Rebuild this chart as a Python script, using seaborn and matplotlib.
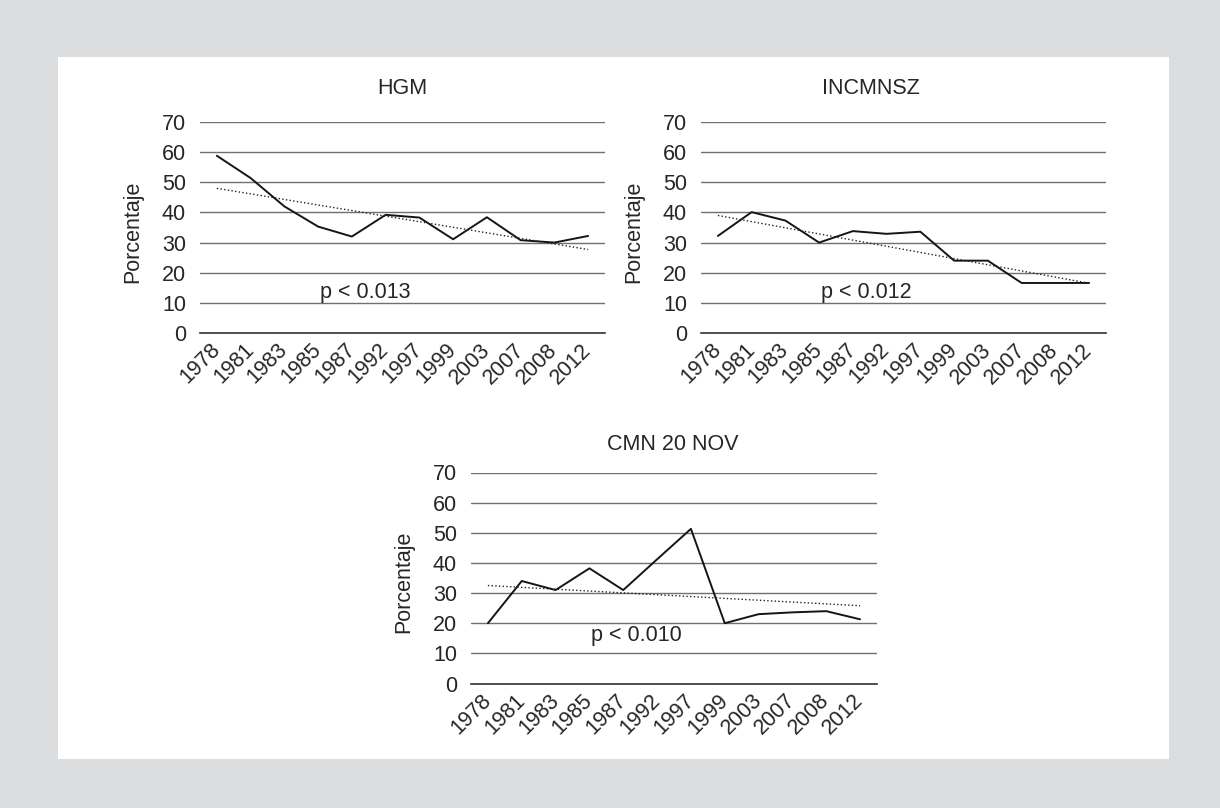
import numpy as np
import pandas as pd
import matplotlib
matplotlib.use('Agg')
import matplotlib.pyplot as plt
import seaborn as sns

# data
years = ['1978', '1981', '1983', '1985', '1987', '1992', '1997', '1999', '2003', '2007', '2008', '2012']
hgm = [58.8, 51.4, 42.0, 35.3, 32.0, 39.2, 38.3, 31.1, 38.4, 30.8, 30.0, 32.2]
incmnsz = [32.2, 40.1, 37.3, 30.0, 33.8, 32.9, 33.6, 24.0, 24.0, 16.6, 16.6, 16.6]
cmn = [20.0, 34.0, 31.0, 38.2, 31.0, 41.2, 51.3, 20.0, 23.0, 23.6, 24.0, 21.3]

# dotted trend lines: value at first and last year
trend_hgm = [48.0, 27.7]
trend_incmnsz = [39.0, 16.5]
trend_cmn = [32.5, 25.8]

titles = ['HGM', 'INCMNSZ', 'CMN 20 NOV']
p_labels = ['p < 0.013', 'p < 0.012', 'p < 0.010']

sns.set_style('white')
plt.rcParams['font.family'] = ['Liberation Sans', 'DejaVu Sans']

fig = plt.figure(figsize=(12.2, 8.08), dpi=100)
fig.patch.set_facecolor('#dcdddf')
# white panel behind the three charts
fig.patches.append(plt.Rectangle((58 / 1220, 1 - 759 / 808), (1169 - 58) / 1220, (759 - 57) / 808,
                                 transform=fig.transFigure, facecolor='white', edgecolor='none', zorder=-5))

axes_pos = [
    [200 / 1220, 1 - 333 / 808, 405 / 1220, 211 / 808],
    [701 / 1220, 1 - 333 / 808, 405 / 1220, 211 / 808],
    [471 / 1220, 1 - 683.5 / 808, 406 / 1220, 211 / 808],
]
series = [hgm, incmnsz, cmn]
trends = [trend_hgm, trend_incmnsz, trend_cmn]
title_x = [0.5, 0.42, 0.4975]
title_y = [1.157, 1.157, 1.135]
p_y = [13.5, 13.5, 16.0]

for i in range(3):
    ax = fig.add_axes(axes_pos[i])
    ax.set_facecolor('none')
    pos = np.arange(len(years))
    df = pd.DataFrame({'pos': pos, 'value': series[i]})
    sns.lineplot(x='pos', y='value', data=df, ax=ax, color='#151515', linewidth=1.4, zorder=3)
    tdf = pd.DataFrame({'pos': [pos[0], pos[-1]], 'value': trends[i]})
    sns.lineplot(x='pos', y='value', data=tdf, ax=ax, color='#222222', linewidth=1.0,
                 linestyle=':', zorder=3)

    ax.set_xlim(-0.5, len(years) - 0.5)
    ax.set_ylim(0, 70)
    ax.set_yticks(range(0, 71, 10))
    ax.yaxis.grid(True, color='#707070', linewidth=1.0)
    ax.set_axisbelow(True)

    # tick marks between categories, labels at category centres
    ax.set_xticks(np.arange(-0.5, len(years), 1.0))
    ax.set_xticklabels([])
    ax.set_xticks(pos, minor=True)
    ax.set_xticklabels(years, minor=True, rotation=45, ha='right', va='center',
                       rotation_mode='anchor', fontsize=15.5)
    ax.tick_params(axis='x', which='major', length=5, width=1.0, color='#333333', direction='out')
    ax.tick_params(axis='x', which='minor', length=0, pad=10)
    ax.tick_params(axis='y', length=0, pad=10, labelsize=15.5)

    for s in ['top', 'right', 'left']:
        ax.spines[s].set_visible(False)
    ax.spines['bottom'].set_color('#333333')
    ax.spines['bottom'].set_linewidth(1.2)

    ax.set_xlabel('')
    ax.set_ylabel('Porcentaje', fontsize=15.5)
    ax.yaxis.set_label_coords(-0.14, 0.48)
    ax.set_title(titles[i], fontsize=15.5, x=title_x[i], y=title_y[i], va='center', pad=0)
    ax.text(3.05, p_y[i], p_labels[i], fontsize=15.5, ha='left', va='center')

fig.savefig('out.png', dpi=100, facecolor=fig.get_facecolor())
